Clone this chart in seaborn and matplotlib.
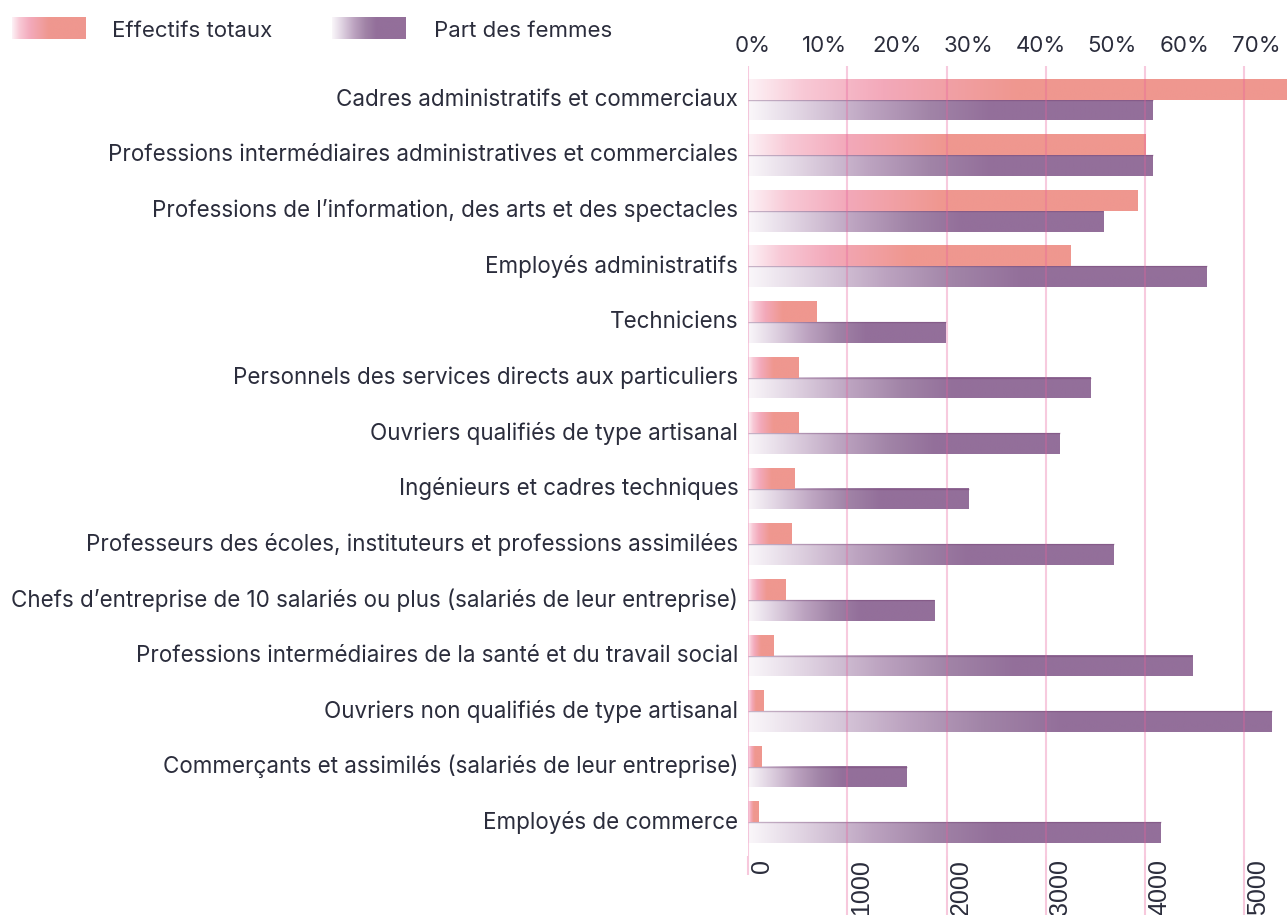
"""
Effectifs totaux et part des femmes par catégorie socioprofessionnelle.

Two horizontal bar series on twin x axes (counts below, percent on top),
bars painted with a left-to-right gradient.
"""

import numpy as np
import pandas as pd
import seaborn as sns
import matplotlib.pyplot as plt
from matplotlib.colors import LinearSegmentedColormap
from matplotlib.transforms import ScaledTranslation


CATEGORIES = [
    "Cadres administratifs et commerciaux",
    "Professions intermédiaires administratives et commerciales",
    "Professions de l’information, des arts et des spectacles",
    "Employés administratifs",
    "Techniciens",
    "Personnels des services directs aux particuliers",
    "Ouvriers qualifiés de type artisanal",
    "Ingénieurs et cadres techniques",
    "Professeurs des écoles, instituteurs et professions assimilées",
    "Chefs d’entreprise de 10 salariés ou plus (salariés de leur entreprise)",
    "Professions intermédiaires de la santé et du travail social",
    "Ouvriers non qualifiés de type artisanal",
    "Commerçants et assimilés (salariés de leur entreprise)",
    "Employés de commerce",
]
EFFECTIFS = [5430, 4008, 3927, 3253, 695, 504, 504, 473, 443, 373, 252, 161, 141, 101]
PART_FEMMES = [56.3, 56.3, 49.4, 63.8, 27.5, 47.7, 43.4, 30.7, 50.9, 25.9, 61.8, 72.9, 22.1, 57.4]

SERIES = ["Effectifs totaux", "Part des femmes"]
COUNT_TICKS = [0, 1000, 2000, 3000, 4000, 5000]
PERCENT_TICKS = [0, 10, 20, 30, 40, 50, 60, 70]

TEXT_COLOR = "#2b2d3c"
GRID_COLOR = "#e8609c"
TICK_COLOR = "#f7c8dc"
PINK_CMAP = LinearSegmentedColormap.from_list(
    "pink",
    [(0.0, "#fdf2f6"), (0.1, "#f8c9d6"), (0.25, "#f3a9ba"),
     (0.5, "#ef978f"), (1.0, "#ef978f")],
)
PURPLE_CMAP = LinearSegmentedColormap.from_list(
    "purple",
    [(0.0, "#faf7fa"), (0.12, "#e2d6e4"), (0.3, "#bca3c0"),
     (0.45, "#a184a7"), (0.6, "#936f9a"), (1.0, "#936f9a")],
)
GRADIENT = np.linspace(0, 1, 512).reshape(1, -1)

W, H = 1287, 915


def build_long_dataframe() -> pd.DataFrame:
    wide = pd.DataFrame(
        {"categorie": CATEGORIES, SERIES[0]: EFFECTIFS, SERIES[1]: PART_FEMMES}
    )
    return wide.melt(id_vars="categorie", var_name="serie", value_name="valeur")


def paint_gradient(ax, cmap, top_edge=False) -> None:
    """Replace each seaborn bar by a gradient image of the same extent."""
    for patch in list(ax.patches):
        width = patch.get_width()
        if not np.isfinite(width) or width <= 0:
            continue
        x0, y0, height = patch.get_x(), patch.get_y(), patch.get_height()
        ax.imshow(
            GRADIENT, cmap=cmap, aspect="auto", interpolation="bilinear",
            extent=(x0, x0 + width, y0 + height, y0), zorder=1,
        )
        if top_edge:
            ax.hlines(y0, x0, x0 + width, color=(0.42, 0.22, 0.42, 0.35),
                      lw=1.0, zorder=1.5)
        patch.set_visible(False)


def main() -> None:
    sns.set_style("white")
    plt.rcParams["font.family"] = ["Inter", "DejaVu Sans"]

    data = build_long_dataframe()

    fig = plt.figure(figsize=(W / 100, H / 100), dpi=100)
    ax = fig.add_axes([748 / W, 1 - 856 / H, 1 - 748 / W, (856 - 66) / H])
    ax2 = ax.twiny()

    common = dict(
        x="valeur", y="categorie", hue="serie", hue_order=SERIES,
        order=CATEGORIES, dodge=True, width=0.745, legend=False, orient="h",
    )
    sns.barplot(data=data[data["serie"] == SERIES[0]], ax=ax, **common)
    sns.barplot(data=data[data["serie"] == SERIES[1]], ax=ax2, **common)

    paint_gradient(ax, PINK_CMAP)
    paint_gradient(ax2, PURPLE_CMAP, top_edge=True)

    # counts axis (bottom) carries the grid and sits on top
    ax.set_zorder(2)
    ax2.set_zorder(1)
    ax.patch.set_visible(False)
    ax2.patch.set_visible(False)

    ax.set_xlim(0, 5430)
    ax2.set_xlim(0, 75)
    ax.set_ylim(len(CATEGORIES) - 1 + 0.606, -0.606)

    for a in (ax, ax2):
        for spine in a.spines.values():
            spine.set_visible(False)
        a.set_xlabel("")
        a.set_ylabel("")

    # bottom axis: rotated counts, long pink ticks
    ax.set_xticks(COUNT_TICKS, labels=[str(t) for t in COUNT_TICKS])
    ax.grid(axis="x", color=GRID_COLOR, alpha=0.33, lw=1.5)
    ax.grid(axis="y", visible=False)
    ax.set_axisbelow(False)
    tick_len = 42.5
    ax.tick_params(axis="x", bottom=True, direction="out", length=tick_len,
                   width=1.5, color=TICK_COLOR, pad=-tick_len + 2,
                   labelsize=18, labelcolor=TEXT_COLOR, labelrotation=90)
    ax.xaxis.get_major_ticks()[0].tick1line.set_markersize(13.7)
    shift = ScaledTranslation(0.14, 0, fig.dpi_scale_trans)
    for label in ax.get_xticklabels():
        label.set_fontfamily("Liberation Sans")
        label.set_verticalalignment("top")
        label.set_transform(label.get_transform() + shift)

    ax.tick_params(axis="y", length=0, pad=7, labelsize=16.15, labelcolor=TEXT_COLOR)
    up_shift = ScaledTranslation(0, 0.025, fig.dpi_scale_trans)
    for label in ax.get_yticklabels():
        label.set_transform(label.get_transform() + up_shift)

    # top axis: percent
    ax2.set_xticks(PERCENT_TICKS, labels=[f"{t}%" for t in PERCENT_TICKS])
    ax2.tick_params(axis="x", top=True, length=0, pad=7.5,
                    labelsize=16, labelcolor=TEXT_COLOR)
    ax2.grid(False)
    top_shift = ScaledTranslation(0.05, 0, fig.dpi_scale_trans)
    for label in ax2.get_xticklabels():
        label.set_transform(label.get_transform() + top_shift)

    # legend with gradient swatches
    swatches = [(12, PINK_CMAP, 112, SERIES[0]), (332, PURPLE_CMAP, 434, SERIES[1])]
    for x_px, cmap, text_px, name in swatches:
        sw = fig.add_axes([x_px / W, 1 - 39 / H, 74 / W, 22.3 / H])
        sw.imshow(GRADIENT, cmap=cmap, aspect="auto", interpolation="bilinear")
        sw.set_axis_off()
        fig.text(text_px / W, 1 - 36.7 / H, name, fontsize=16,
                 color=TEXT_COLOR, va="baseline", ha="left")

    fig.savefig("out.png", dpi=100, facecolor="white")


if __name__ == "__main__":
    main()
